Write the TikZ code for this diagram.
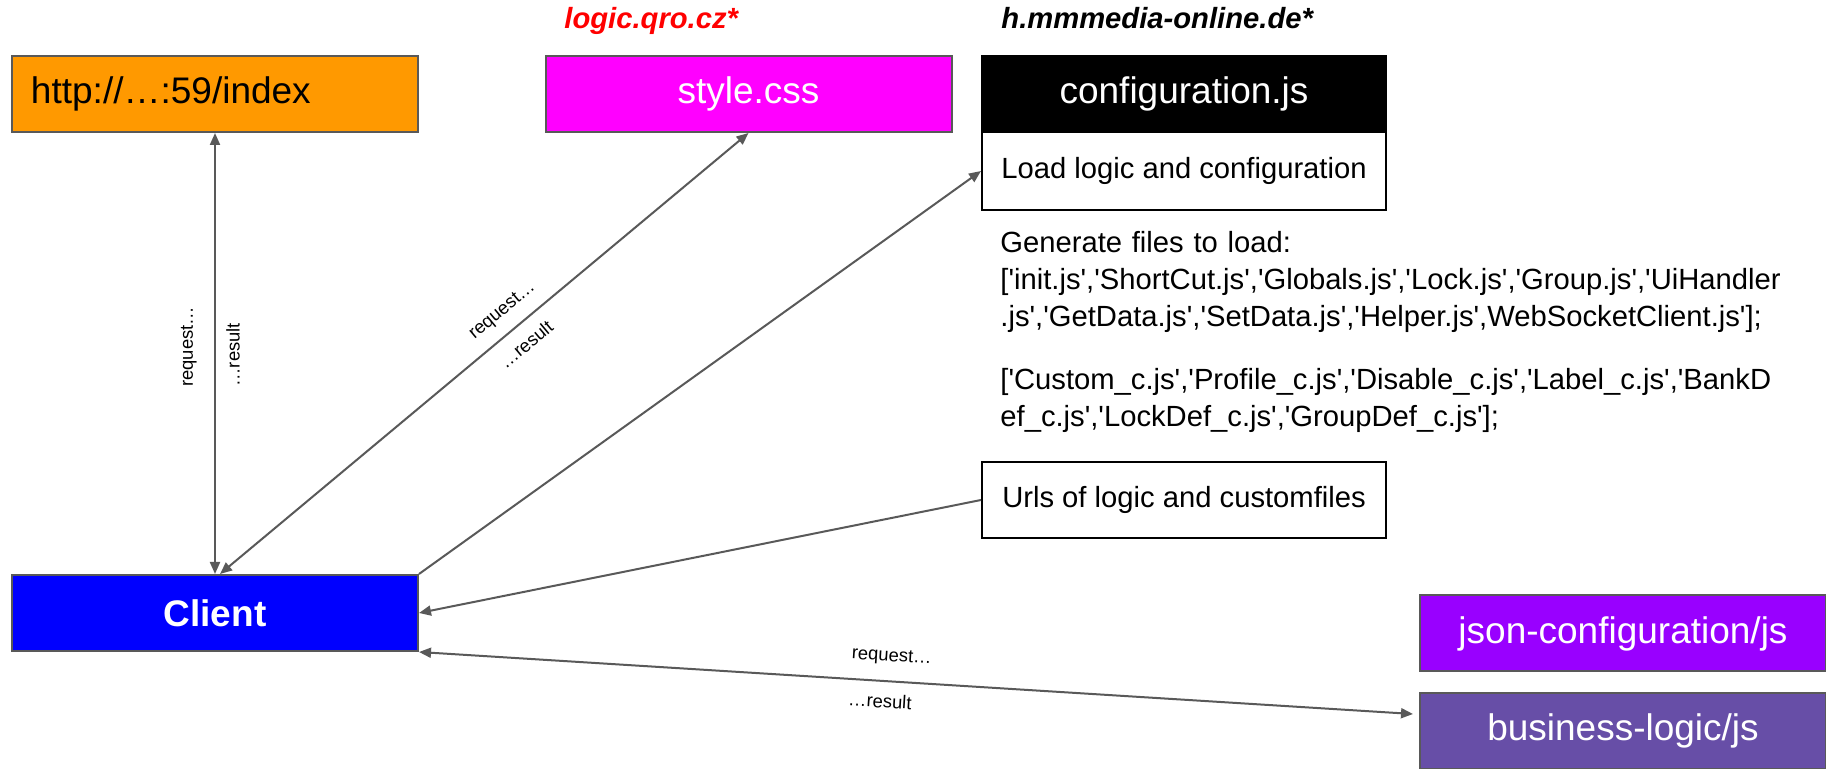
\documentclass[tikz,border=0pt]{standalone}
\usepackage{fontspec}
\setmainfont{Liberation Sans}[Ligatures=TeXOff]
\usetikzlibrary{arrows.meta}
\definecolor{borderg}{HTML}{595959}
\definecolor{idxorange}{HTML}{FF9900}
\definecolor{cssmag}{HTML}{FF00FF}
\definecolor{clientblue}{HTML}{0000FF}
\definecolor{jsonpurple}{HTML}{9900FF}
\definecolor{bizpurple}{HTML}{674EA7}
\definecolor{hdred}{HTML}{FF0000}
\begin{document}
\begin{tikzpicture}[x=0.5pt,y=-0.5pt,
  box/.style={draw=borderg, line width=1pt, minimum width=203pt, minimum height=38pt, inner sep=0pt, font=\fontsize{18.5}{22}\selectfont},
  wbox/.style={draw=black, line width=1pt, fill=white, minimum width=202pt, minimum height=38pt, inner sep=0pt, font=\fontsize{14.6}{17}\selectfont},
  conn/.style={draw=borderg, line width=1pt},
  tip/.style={-{Triangle[length=6pt,width=5pt]}},
  dbl/.style={{Triangle[length=6pt,width=5pt]}-{Triangle[length=6pt,width=5pt]}},
  lbl/.style={font=\fontsize{9.2}{11}\selectfont, sloped},
  hd/.style={anchor=base west, inner sep=0pt, font=\fontsize{14.6}{17}\selectfont\bfseries\itshape}]
\useasboundingbox (0,0) rectangle (1826,769);

% boxes
\node[box, fill=idxorange, text width=184pt, inner xsep=9.5pt, align=left] (idx) at (215,94) {http://…:59/index};
\node[box, fill=cssmag, text=white] (css) at (748.5,94) {style.css};
\node[box, draw=black, fill=black, text=white, minimum width=202pt] (cfg) at (1184,94) {configuration.js};
\node[wbox, minimum height=39pt] (load) at (1184,171) {Load logic and configuration};
\node[wbox] (urls) at (1184,500) {Urls of logic and customfiles};
\node[box, fill=clientblue, text=white, font=\fontsize{18.5}{22}\selectfont\bfseries] (client) at (215,613) {Client};
\node[box, fill=jsonpurple, text=white] (json) at (1623,633.5) {json-configuration/js};
\node[box, fill=bizpurple, text=white] (biz) at (1623,731) {business-logic/js};

% headings
\node[hd, text=hdred] (h1) at (564,29) {logic.qro.cz*};
\node[hd, text=black] (h2) at (1001,29) {h.mmmedia-online.de*};

% generated file list
\node[anchor=base west, inner sep=0pt, text width=420pt, align=left, font=\fontsize{14.6}{18.4}\selectfont] (gen) at (1000,253)
  {Generate files to load:\\[0pt]['init.js','ShortCut.js','Globals.js','Lock.js','Group.js','UiHandler\\[0pt].js','GetData.js','SetData.js','Helper.js',WebSocketClient.js'];\\[13pt]['Custom\_c.js','Profile\_c.js','Disable\_c.js','Label\_c.js','BankD\\[0pt]ef\_c.js','LockDef\_c.js','GroupDef\_c.js'];};

% connectors
\draw[conn, dbl] (client.north) -- (idx.south)
  node[lbl, pos=0.515, anchor=south, inner sep=8.7pt] (l1) {request…}
  node[lbl, pos=0.497, anchor=north, inner sep=5.2pt] (l2) {…result};
\draw[conn, dbl] ([xshift=2.5pt]client.north) -- (css.south)
  node[lbl, pos=0.56, anchor=south, inner sep=6pt] (l3) {request…}
  node[lbl, pos=0.555, anchor=north, inner sep=6pt] (l4) {…result};
\draw[conn, tip] (client.north east) -- (load.west);
\draw[conn, tip] (urls.west) -- (client.east);
\draw[conn, dbl] (client.south east) -- ([xshift=-3pt,yshift=8.5pt]biz.west)
  node[lbl, pos=0.474, anchor=south, inner sep=7.7pt] (l5) {request…}
  node[lbl, pos=0.465, anchor=north, inner sep=6.2pt] (l6) {…result};
\end{tikzpicture}
\end{document}
